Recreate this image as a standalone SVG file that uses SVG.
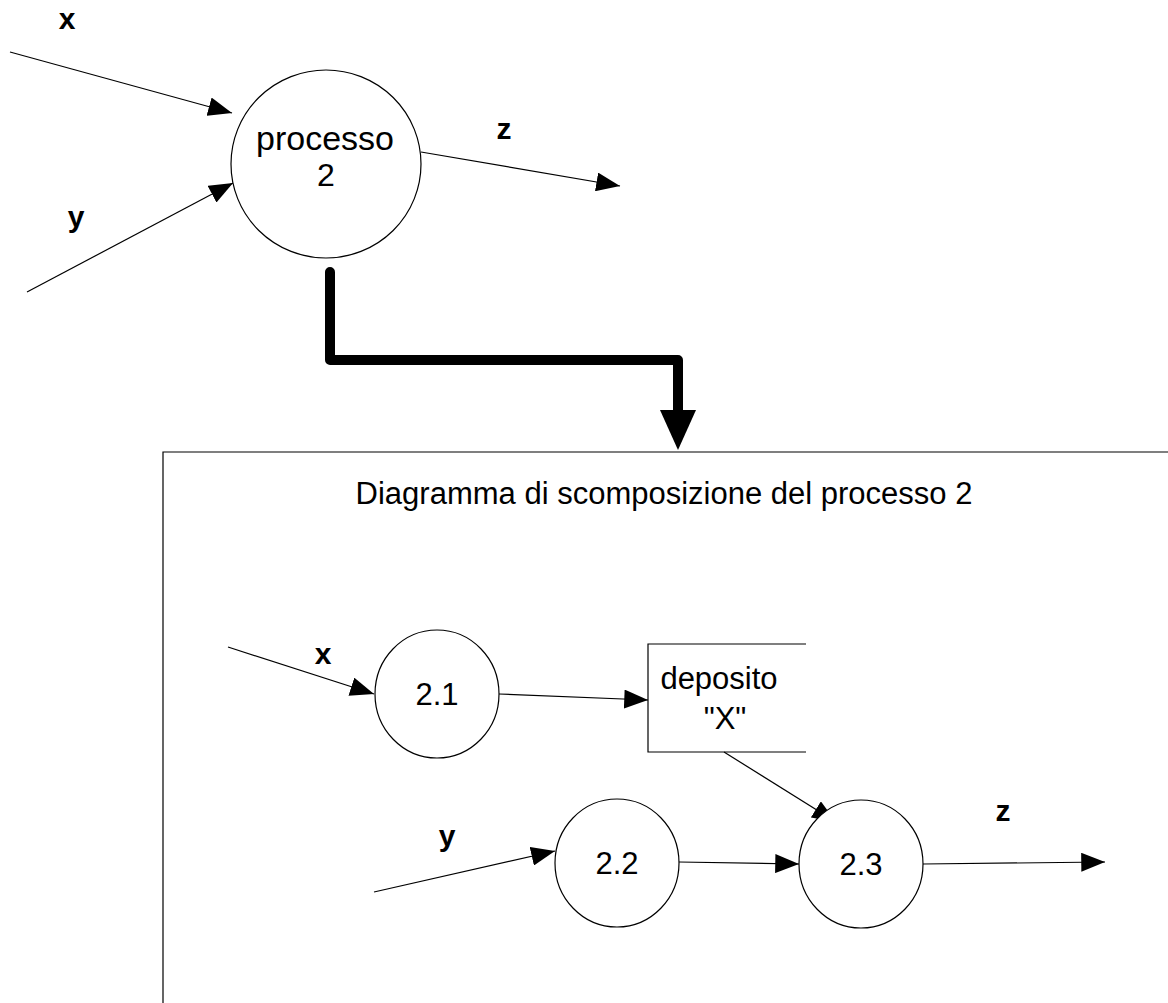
<svg xmlns="http://www.w3.org/2000/svg" width="1168" height="1003" viewBox="0 0 1168 1003">
<style>
.ln{stroke:#000;stroke-width:1.2;fill:none}
.nd{stroke:#000;stroke-width:1.2;fill:#fff}
.t{font-family:"Liberation Sans",Arial,sans-serif;font-size:31px;fill:#000;text-anchor:middle}
.b{font-weight:bold;font-size:30px}
</style>
<defs>
<marker id="a" viewBox="0 0 20 16" refX="20" refY="8" markerWidth="24" markerHeight="19" markerUnits="userSpaceOnUse" orient="auto">
<path d="M0,0 L20,8 L0,16 Z" fill="#000"/>
</marker>
</defs>
<g id="frame">
<path class="ln" d="M163,1003 L163,452 L1168,452"/>
<text class="t" x="664" y="504">Diagramma di scomposizione del processo 2</text>
</g>
<g id="connectors">
<line class="ln" x1="10" y1="52" x2="232" y2="113" marker-end="url(#a)"/>
<line class="ln" x1="27" y1="292" x2="233" y2="183" marker-end="url(#a)"/>
<line class="ln" x1="421" y1="152" x2="620" y2="186" marker-end="url(#a)"/>
<path d="M330,272 L330,360 L678,360 L678,412" stroke="#000" stroke-width="10" fill="none" stroke-linecap="round" stroke-linejoin="round"/>
<path d="M660,410 L696,410 L678,450 Z" fill="#000"/>
<line class="ln" x1="228" y1="647" x2="374" y2="694" marker-end="url(#a)"/>
<line class="ln" x1="499" y1="694" x2="648" y2="700" marker-end="url(#a)"/>
<line class="ln" x1="724" y1="752" x2="836" y2="822" marker-end="url(#a)"/>
<line class="ln" x1="374" y1="892" x2="555" y2="851" marker-end="url(#a)"/>
<line class="ln" x1="679" y1="862" x2="799" y2="864" marker-end="url(#a)"/>
<line class="ln" x1="923" y1="864" x2="1105" y2="862" marker-end="url(#a)"/>
</g>
<g id="labels">
<text class="t b" x="67" y="29">x</text>
<text class="t b" x="76" y="227">y</text>
<text class="t b" x="504" y="139">z</text>
<text class="t b" x="323" y="664">x</text>
<text class="t b" x="447" y="846">y</text>
<text class="t b" x="1003" y="821">z</text>
</g>
<g id="processo2">
<ellipse class="nd" cx="326" cy="164" rx="95" ry="94"/>
<text class="t" x="325" y="150" style="font-size:34px">processo</text>
<text class="t" x="326" y="186" style="font-size:32px">2</text>
</g>
<g id="n21">
<ellipse class="nd" cx="437" cy="694" rx="62" ry="64"/>
<text class="t" x="437" y="705">2.1</text>
</g>
<g id="deposito">
<path class="ln" d="M806,644 L648,644 L648,752 L806,752"/>
<text class="t" x="719" y="689">deposito</text>
<text class="t" x="725" y="729">"X"</text>
</g>
<g id="n22">
<ellipse class="nd" cx="617" cy="863" rx="62" ry="64"/>
<text class="t" x="617" y="874">2.2</text>
</g>
<g id="n23">
<ellipse class="nd" cx="861" cy="864" rx="62" ry="64"/>
<text class="t" x="861" y="875">2.3</text>
</g>
</svg>
